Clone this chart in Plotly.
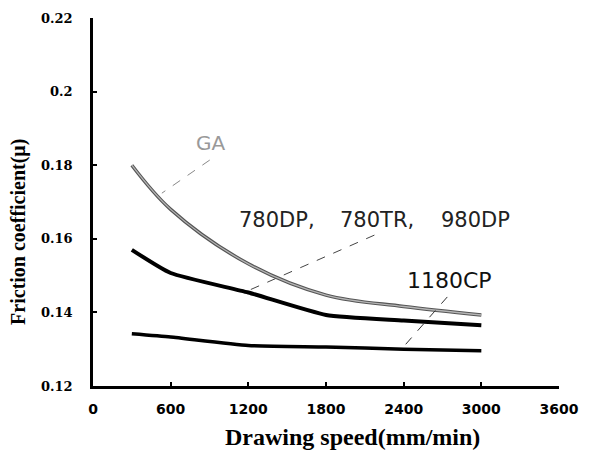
import plotly.graph_objects as go

speed = [300, 600, 1200, 1800, 2400, 3000]
ga = [0.180, 0.168, 0.1532, 0.1447, 0.1416, 0.1393]
dp780 = [0.157, 0.1507, 0.1454, 0.1393, 0.1378, 0.1365]
cp1180 = [0.1342, 0.1333, 0.1310, 0.1306, 0.1300, 0.1296]

x_ticks = [0, 600, 1200, 1800, 2400, 3000, 3600]
y_ticks = [0.12, 0.14, 0.16, 0.18, 0.2, 0.22]
y_tick_text = ["0.12", "0.14", "0.16", "0.18", "0.2", "0.22"]

fig = go.Figure()
fig.add_trace(go.Scatter(x=speed, y=ga, mode="lines", line=dict(color="#555", width=3.5, shape="spline"), showlegend=False))
fig.add_trace(go.Scatter(x=speed, y=ga, mode="lines", line=dict(color="#b5b5b5", width=1.3, shape="spline"), showlegend=False))
fig.add_trace(go.Scatter(x=speed, y=dp780, mode="lines", line=dict(color="#000", width=4, shape="spline", smoothing=0.5), showlegend=False))
fig.add_trace(go.Scatter(x=speed, y=cp1180, mode="lines", line=dict(color="#000", width=3.5, shape="spline", smoothing=0.5), showlegend=False))

# leader lines
leaders = [
    ((902, 0.1814), (532, 0.1724), "#888"),
    ((2174, 0.1610), (1172, 0.1455), "#444"),
    ((2737, 0.1442), (2390, 0.1303), "#333"),
]
for (x0, y0), (x1, y1), c in leaders:
    fig.add_shape(type="line", xref="x", yref="y", x0=x0, y0=y0, x1=x1, y1=y1,
                  line=dict(color=c, width=1, dash="dash"))

labels = [
    ("GA", 906, 0.1859, "#999", 20),
    ("780DP,", 1418, 0.1651, "#222", 21),
    ("780TR,", 2197, 0.1651, "#222", 21),
    ("980DP", 2952, 0.1651, "#222", 21),
    ("1180CP", 2752, 0.1488, "#111", 22),
]
for t, x, y, c, s in labels:
    fig.add_annotation(x=x, y=y, xref="x", yref="y", text=t, showarrow=False,
                       font=dict(family="DejaVu Sans", size=s, color=c))

fig.add_annotation(x=0.556, y=-0.139, xref="paper", yref="paper", text="Drawing speed(mm/min)",
                   showarrow=False, xanchor="center", yanchor="middle",
                   font=dict(family="Liberation Serif", size=24, color="#000", weight="bold"))
fig.add_annotation(x=-0.16, y=0.42, xref="paper", yref="paper", text="Friction coefficient(μ)",
                   showarrow=False, textangle=-90, xanchor="center", yanchor="middle",
                   font=dict(family="Liberation Serif", size=20, color="#000", weight="bold"))

fig.update_layout(
    width=591, height=452,
    margin=dict(l=93, r=32, t=18, b=66),
    paper_bgcolor="white", plot_bgcolor="white",
    xaxis=dict(range=[0, 3600], tickvals=x_ticks, showgrid=False, zeroline=False,
               showline=True, linecolor="#000", linewidth=2.5,
               ticks="inside", ticklen=4, tickwidth=1.5, tickcolor="#000",
               ticklabelstandoff=8,
               tickfont=dict(family="DejaVu Sans", size=14, color="#000", weight="bold")),
    yaxis=dict(range=[0.12, 0.22], tickvals=y_ticks, ticktext=y_tick_text, showgrid=False, zeroline=False,
               showline=True, linecolor="#000", linewidth=2.5,
               ticks="inside", ticklen=4, tickwidth=1.5, tickcolor="#000",
               ticklabelstandoff=15,
               tickfont=dict(family="DejaVu Serif", size=13, color="#000", weight="bold")),
)

fig.write_html("out.html")
